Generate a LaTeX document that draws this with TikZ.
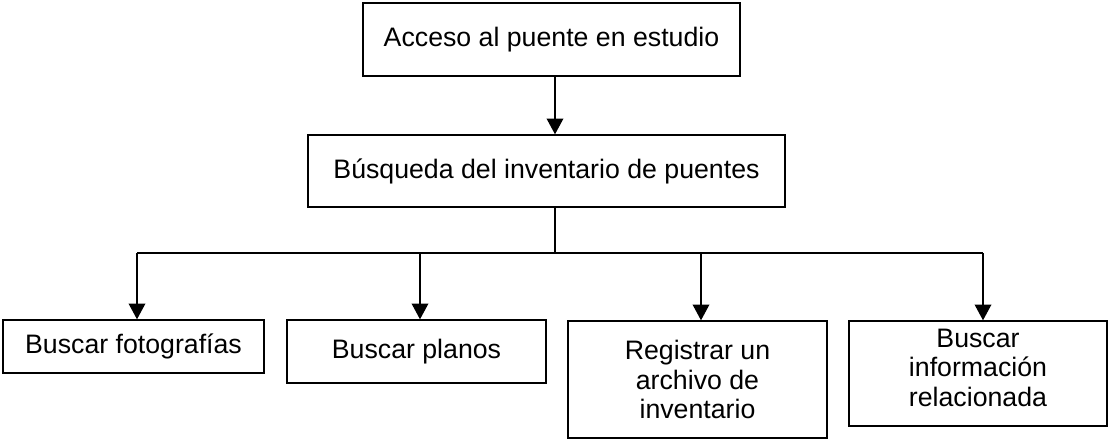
\documentclass[tikz,border=0pt]{standalone}
\usepackage{fontspec}
\setmainfont{Liberation Sans}
\usetikzlibrary{arrows.meta}

\begin{document}
\begin{tikzpicture}[x=0.02cm,y=-0.02cm,
	caja/.style={shape=rectangle,draw=black,line width=0.8pt,inner sep=0pt,align=center,font=\fontsize{15.2}{16.8}\selectfont},
	flecha/.style={line width=0.8pt,-{Triangle[length=9pt,width=9.5pt]}},
	linea/.style={line width=0.8pt}]
	\useasboundingbox (0,0) rectangle (1109,441);
	\node[caja,minimum width=7.54cm,minimum height=1.46cm] (acceso) at (551.5,39.5) {Acceso al puente en estudio};
	\node[caja,minimum width=9.54cm,minimum height=1.44cm] (busqueda) at (546.5,171) {Búsqueda del inventario de puentes};
	\node[caja,minimum width=5.22cm,minimum height=1.06cm] (fotos) at (133.5,346.5) {Buscar fotografías};
	\node[caja,minimum width=5.18cm,minimum height=1.26cm] (planos) at (416.5,351.5) {Buscar planos};
	\node[caja,minimum width=5.18cm,minimum height=2.34cm] (registro) at (697.5,379.5) {Registrar un\\archivo de\\inventario};
	\node[caja,minimum width=5.16cm,minimum height=2.10cm,text depth=7pt] (info) at (978,373.5) {Buscar\\información\\relacionada};
	\coordinate (rama) at (555,253);
	\coordinate (r1) at (137,253);
	\coordinate (r2) at (420,253);
	\coordinate (r3) at (701,253);
	\coordinate (r4) at (983,253);
	\draw [flecha] (acceso.south -| rama) -- (busqueda.north -| rama);
	\draw [linea] (busqueda.south -| rama) -- (rama);
	\draw [linea] (r1) -- (r4);
	\draw [flecha] (r1) -- (fotos.north -| r1);
	\draw [flecha] (r2) -- (planos.north -| r2);
	\draw [flecha] (r3) -- (registro.north -| r3);
	\draw [flecha] (r4) -- (info.north -| r4);
\end{tikzpicture}
\end{document}
